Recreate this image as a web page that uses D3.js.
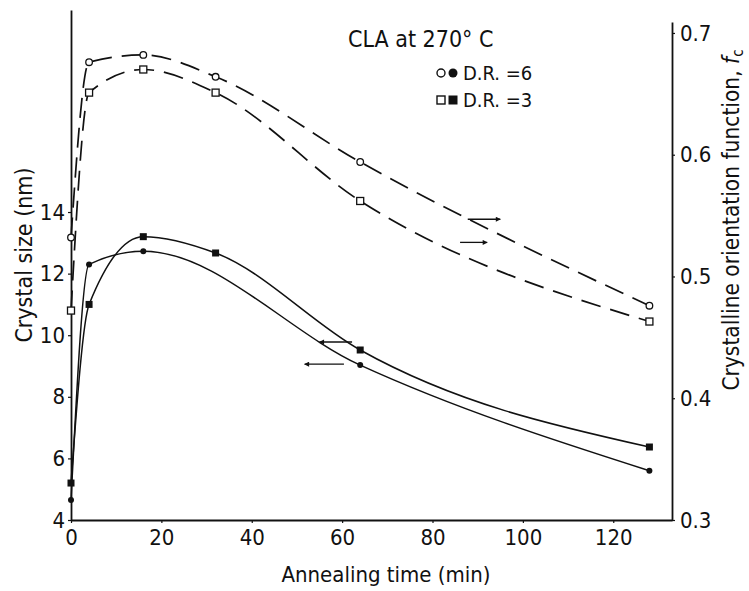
<!DOCTYPE html>
<html>
<head>
<meta charset="utf-8">
<script src="https://cdn.jsdelivr.net/npm/d3@7"></script>
<style>
  body { margin: 0; background: #fff; }
  svg text { font-family: "DejaVu Sans Condensed", "DejaVu Sans", sans-serif; fill: #111; }
</style>
</head>
<body>
<div class="chart"></div>
<script>
// annealing times (min)
var timesAll = [0, 4, 16, 32, 64, 128];
var timesSizeDR6 = [0, 4, 16, 64, 128];

// crystalline orientation function fc (right axis, dashed curves)
var fcDR6 = [0.532, 0.676, 0.682, 0.664, 0.594, 0.476];
var fcDR3 = [0.472, 0.651, 0.670, 0.651, 0.562, 0.463];

// crystal size in nm (left axis, solid curves)
var sizeDR6 = [4.65, 12.3, 12.73, 9.03, 5.6];
var sizeDR3 = [5.2, 11.0, 13.2, 12.67, 9.52, 6.37];

// tick labels
var xTicks = [0, 20, 40, 60, 80, 100, 120];
var leftTicks = [4, 6, 8, 10, 12, 14];
var rightTicks = [0.3, 0.4, 0.5, 0.6, 0.7];

var titleText = "CLA at 270\u00b0 C";
var legendLabels = ["D.R. =6", "D.R. =3"];

// arrows telling which axis a curve belongs to: [t from, t to, value]
var sizeArrows = [[55, 62.2, 9.78], [51.7, 60.4, 9.06]];
var fcArrows = [[87.8, 95, 0.547], [86.1, 92.1, 0.528]];

var svgWidth = 749;
var svgHeight = 591;

var svg = d3
  .select(".chart")
  .append("svg")
  .attr("width", svgWidth)
  .attr("height", svgHeight);

// scales
var xScale = d3.scaleLinear().domain([0, 133]).range([71, 672]);
var yLeft = d3.scaleLinear().domain([4, 20.56]).range([520, 10]);
var yRight = d3.scaleLinear().domain([0.3, 0.709]).range([520, 22]);

// axes
var xAxis = d3.axisBottom(xScale).tickValues(xTicks).tickSize(3).tickSizeOuter(0).tickPadding(6);
var leftAxis = d3.axisLeft(yLeft).tickValues(leftTicks).tickSize(3).tickSizeOuter(0).tickPadding(3);
var rightAxis = d3
  .axisRight(yRight)
  .tickValues(rightTicks)
  .tickSize(3)
  .tickSizeOuter(0)
  .tickPadding(5)
  .tickFormat(d3.format(".1f"));

svg.append("g").attr("transform", "translate(0,520)").call(xAxis);
svg.append("g").attr("transform", "translate(71,0)").call(leftAxis);
svg.append("g").attr("transform", "translate(672,0)").call(rightAxis);

svg.selectAll(".domain").attr("stroke", "#111").attr("stroke-width", 1.8);
svg.selectAll(".tick line").attr("stroke", "#111").attr("stroke-width", 1.2);
svg.selectAll(".tick text").style("font-size", "22px").attr("fill", "#111");

// axis titles
svg
  .append("text")
  .attr("x", 386)
  .attr("y", 582)
  .attr("text-anchor", "middle")
  .style("font-size", "22px")
  .text("Annealing time (min)");

svg
  .append("text")
  .attr("transform", "translate(32,255) rotate(-90)")
  .attr("text-anchor", "middle")
  .style("font-size", "23px")
  .text("Crystal size (nm)");

var rightTitle = svg
  .append("text")
  .attr("transform", "translate(739,220) rotate(-90)")
  .attr("text-anchor", "middle")
  .style("font-size", "22.5px");
rightTitle.append("tspan").text("Crystalline orientation function, ");
rightTitle.append("tspan").style("font-style", "italic").text("f");
rightTitle.append("tspan").attr("dy", 4).style("font-size", "15px").text("c");

// curves
var lineFc = d3
  .line()
  .x((d) => xScale(d[0]))
  .y((d) => yRight(d[1]))
  .curve(d3.curveMonotoneX);

var lineSize = d3
  .line()
  .x((d) => xScale(d[0]))
  .y((d) => yLeft(d[1]))
  .curve(d3.curveMonotoneX);

var fc6 = d3.zip(timesAll, fcDR6);
var fc3 = d3.zip(timesAll, fcDR3);
var size6 = d3.zip(timesSizeDR6, sizeDR6);
var size3 = d3.zip(timesAll, sizeDR3);

[fc6, fc3].forEach(function (pts) {
  svg
    .append("path")
    .attr("d", lineFc(pts))
    .attr("fill", "none")
    .attr("stroke", "#111")
    .attr("stroke-width", 1.7)
    .attr("stroke-dasharray", "20,10");
});

[size6, size3].forEach(function (pts) {
  svg
    .append("path")
    .attr("d", lineSize(pts))
    .attr("fill", "none")
    .attr("stroke", "#111")
    .attr("stroke-width", 1.5);
});

// markers
svg
  .selectAll("circle.fc6")
  .data(fc6)
  .enter()
  .append("circle")
  .attr("cx", (d) => xScale(d[0]))
  .attr("cy", (d) => yRight(d[1]))
  .attr("r", 3.3)
  .attr("fill", "#fff")
  .attr("stroke", "#111")
  .attr("stroke-width", 1.3);

svg
  .selectAll("rect.fc3")
  .data(fc3)
  .enter()
  .append("rect")
  .attr("x", (d) => xScale(d[0]) - 3.5)
  .attr("y", (d) => yRight(d[1]) - 3.5)
  .attr("width", 7)
  .attr("height", 7)
  .attr("fill", "#fff")
  .attr("stroke", "#111")
  .attr("stroke-width", 1.3);

svg
  .selectAll("circle.s6")
  .data(size6)
  .enter()
  .append("circle")
  .attr("cx", (d) => xScale(d[0]))
  .attr("cy", (d) => yLeft(d[1]))
  .attr("r", 3)
  .attr("fill", "#111");

svg
  .selectAll("rect.s3")
  .data(size3)
  .enter()
  .append("rect")
  .attr("x", (d) => xScale(d[0]) - 3.5)
  .attr("y", (d) => yLeft(d[1]) - 3.5)
  .attr("width", 7)
  .attr("height", 7)
  .attr("fill", "#111");

// arrowheads
var defs = svg.append("defs");
defs
  .append("marker")
  .attr("id", "head")
  .attr("viewBox", "0 0 10 10")
  .attr("refX", 9)
  .attr("refY", 5)
  .attr("markerWidth", 7)
  .attr("markerHeight", 5)
  .attr("markerUnits", "userSpaceOnUse")
  .attr("orient", "auto")
  .append("path")
  .attr("d", "M0,0 L10,5 L0,10 Z")
  .attr("fill", "#111");

sizeArrows.forEach(function (a) {
  svg
    .append("line")
    .attr("x1", xScale(a[1]))
    .attr("x2", xScale(a[0]))
    .attr("y1", yLeft(a[2]))
    .attr("y2", yLeft(a[2]))
    .attr("stroke", "#111")
    .attr("stroke-width", 1.3)
    .attr("marker-end", "url(#head)");
});

fcArrows.forEach(function (a) {
  svg
    .append("line")
    .attr("x1", xScale(a[0]))
    .attr("x2", xScale(a[1]))
    .attr("y1", yRight(a[2]))
    .attr("y2", yRight(a[2]))
    .attr("stroke", "#111")
    .attr("stroke-width", 1.3)
    .attr("marker-end", "url(#head)");
});

// title and legend
svg
  .append("text")
  .attr("x", 348)
  .attr("y", 47)
  .style("font-size", "23px")
  .text(titleText);

var legend = svg.append("g").attr("transform", "translate(441,73)");

legend.append("circle").attr("cx", 0).attr("cy", 0).attr("r", 4).attr("fill", "#fff").attr("stroke", "#111").attr("stroke-width", 1.4);
legend.append("circle").attr("cx", 12).attr("cy", 0).attr("r", 4.5).attr("fill", "#111");
legend.append("rect").attr("x", -4).attr("y", 23).attr("width", 8).attr("height", 8).attr("fill", "#fff").attr("stroke", "#111").attr("stroke-width", 1.4);
legend.append("rect").attr("x", 7.5).attr("y", 22.5).attr("width", 9).attr("height", 9).attr("fill", "#111");

legend
  .selectAll("text")
  .data(legendLabels)
  .enter()
  .append("text")
  .attr("x", 22)
  .attr("y", (d, i) => 7 + i * 27)
  .style("font-size", "20px")
  .text((d) => d);
</script>
</body>
</html>
